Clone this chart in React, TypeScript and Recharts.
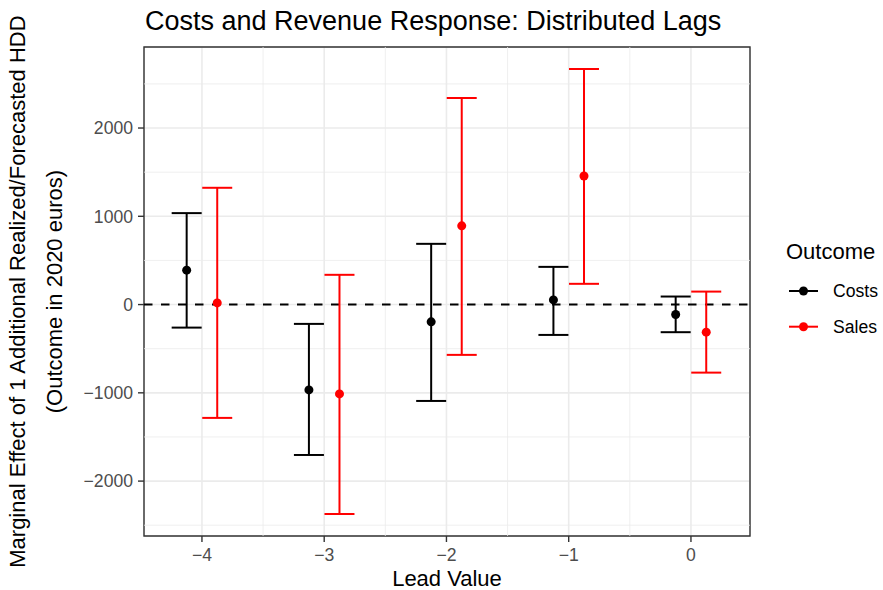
import { ComposedChart, Scatter, ErrorBar, XAxis, YAxis, CartesianGrid, ReferenceLine, ReferenceArea } from 'recharts'

const FONT = '"Liberation Sans", Arial, Helvetica, sans-serif'

// lead values on the x axis
const LEADS = [-4, -3, -2, -1, 0]

// Costs: point estimate with lower / upper bound
const COSTS_EST = [390, -967, -196, 53, -113]
const COSTS_LO = [-261, -1704, -1092, -344, -313]
const COSTS_HI = [1036, -219, 688, 427, 91]

// Sales
const SALES_EST = [19, -1012, 892, 1456, -313]
const SALES_LO = [-1284, -2373, -570, 235, -771]
const SALES_HI = [1323, 337, 2340, 2669, 147]

const X_TICKS = [-4, -3, -2, -1, 0]
const Y_TICKS = [-2000, -1000, 0, 1000, 2000]
const X_MINOR = [-3.5, -2.5, -1.5, -0.5]
const Y_MINOR = [-2500, -1500, -500, 500, 1500, 2500]

const X_DOMAIN: [number, number] = [-4.474, 0.483]
const Y_DOMAIN: [number, number] = [-2622, 2918]
const DODGE = 0.125

const fmt = (v: number) => (v < 0 ? '\u2212' + Math.abs(v) : String(v))

function buildRows(est: number[], lo: number[], hi: number[], shift: number) {
  return LEADS.map((lead, i) => ({
    x: lead + shift,
    y: est[i],
    err: [est[i] - lo[i], hi[i] - est[i]],
  }))
}

const costsRows = buildRows(COSTS_EST, COSTS_LO, COSTS_HI, -DODGE)
const salesRows = buildRows(SALES_EST, SALES_LO, SALES_HI, DODGE)

const dot = (color: string) => (props: any) => (
  <circle cx={props.cx} cy={props.cy} r={4.5} fill={color} />
)

const tickStyle = { fill: '#4D4D4D', fontSize: 17.6, fontFamily: FONT }

export default function App() {
  return (
    <div style={{ position: 'absolute', left: 0, top: 0, width: 883, height: 590, background: '#fff' }}>
      <ComposedChart width={883} height={590} margin={{ top: 47, right: 133, bottom: 0, left: 0 }}>
        <CartesianGrid stroke="#EBEBEB" strokeWidth={1.6} />
        {X_MINOR.map(v => (
          <ReferenceLine key={'xm' + v} x={v} stroke="#EBEBEB" strokeWidth={0.8} />
        ))}
        {Y_MINOR.map(v => (
          <ReferenceLine key={'ym' + v} y={v} stroke="#EBEBEB" strokeWidth={0.8} />
        ))}
        <XAxis
          type="number"
          dataKey="x"
          domain={X_DOMAIN}
          ticks={X_TICKS}
          allowDataOverflow
          height={54}
          axisLine={false}
          tickSize={6}
          tickMargin={7}
          tickLine={{ stroke: '#333333', strokeWidth: 1.4 }}
          tick={tickStyle}
          tickFormatter={fmt}
        />
        <YAxis
          type="number"
          dataKey="y"
          domain={Y_DOMAIN}
          ticks={Y_TICKS}
          allowDataOverflow
          width={144}
          axisLine={false}
          tickSize={6}
          tickMargin={5}
          tickLine={{ stroke: '#333333', strokeWidth: 1.4 }}
          tick={tickStyle}
          tickFormatter={fmt}
        />
        <ReferenceLine y={0} stroke="#000" strokeWidth={2} strokeDasharray="8.5 8.5" />
        <Scatter data={costsRows} fill="#000" shape={dot('#000')} isAnimationActive={false}>
          <ErrorBar dataKey="err" direction="y" width={15} stroke="#000" strokeWidth={2} />
        </Scatter>
        <Scatter data={salesRows} fill="#FF0000" shape={dot('#FF0000')} isAnimationActive={false}>
          <ErrorBar dataKey="err" direction="y" width={15} stroke="#FF0000" strokeWidth={2} />
        </Scatter>
        <ReferenceArea
          x1={X_DOMAIN[0]}
          x2={X_DOMAIN[1]}
          y1={Y_DOMAIN[0]}
          y2={Y_DOMAIN[1]}
          fill="none"
          fillOpacity={0}
          stroke="#333333"
          strokeWidth={1.4}
          ifOverflow="visible"
        />
      </ComposedChart>

      {/* titles and legend */}
      <svg
        width={883}
        height={590}
        style={{ position: 'absolute', left: 0, top: 0, pointerEvents: 'none' }}
        fontFamily={FONT}
      >
        <text x={145} y={30} fontSize={27} fill="#000">
          Costs and Revenue Response: Distributed Lags
        </text>
        <text x={447} y={586} fontSize={22} fill="#000" textAnchor="middle">
          Lead Value
        </text>
        <g transform="translate(25, 291.6) rotate(-90)">
          <text x={0} y={0} fontSize={22} fill="#000" textAnchor="middle">
            Marginal Effect of 1 Additional Realized/Forecasted HDD
          </text>
        </g>
        <g transform="translate(62, 291.6) rotate(-90)">
          <text x={0} y={0} fontSize={22} fill="#000" textAnchor="middle">
            (Outcome in 2020 euros)
          </text>
        </g>

        <text x={786} y={258.5} fontSize={22} fill="#000">Outcome</text>
        <line x1={789} x2={818} y1={291} y2={291} stroke="#000" strokeWidth={2} />
        <circle cx={803.5} cy={291} r={4.5} fill="#000" />
        <text x={833} y={291} dy="0.355em" fontSize={17.6} fill="#000">Costs</text>
        <line x1={789} x2={818} y1={326.7} y2={326.7} stroke="#FF0000" strokeWidth={2} />
        <circle cx={803.5} cy={326.7} r={4.5} fill="#FF0000" />
        <text x={833} y={326.7} dy="0.355em" fontSize={17.6} fill="#000">Sales</text>
      </svg>
    </div>
  )
}
